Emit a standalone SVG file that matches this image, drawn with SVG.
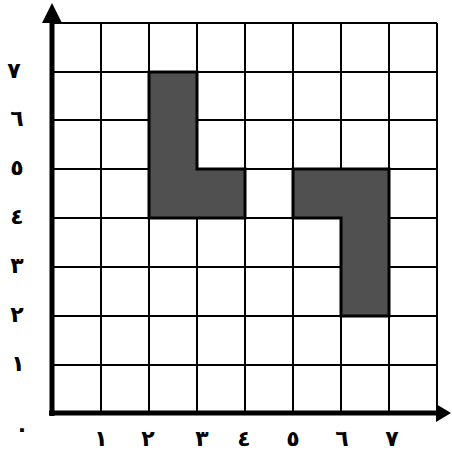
<svg xmlns="http://www.w3.org/2000/svg" width="452" height="458" viewBox="0 0 452 458">
<style>
.g{stroke:#000;stroke-width:2;fill:none}
.sh{fill:#505050;stroke:#000;stroke-width:3;stroke-linejoin:miter}
.ax{stroke:#000;stroke-width:5;fill:none}
.t{font-family:"DejaVu Sans",sans-serif;font-size:22px;font-weight:bold;fill:#000;text-anchor:middle}
</style>
<rect width="452" height="458" fill="#fff"/>
<g id="grid">
<path class="g" d="M101,23V413M149,23V413M197,23V413M245,23V413M293,23V413M341,23V413M389,23V413M437,23V413M52,23H437M52,72H437M52,120H437M52,169H437M52,218H437M52,267H437M52,316H437M52,365H437"/>
</g>
<g id="shapes">
<polygon id="shape-left" class="sh" points="149,72 197,72 197,169 245,169 245,218 149,218"/>
<polygon id="shape-right" class="sh" points="293,169 389,169 389,316 341,316 341,218 293,218"/>
</g>
<g id="axes">
<path class="ax" d="M52,416V20M49,413H440"/>
<polygon points="52,3 42,23 62,23" fill="#000"/>
<polygon points="436,404 436,422 451,413" fill="#000"/>
</g>
<g id="y-labels">
<text class="t" x="14" y="78">٧</text>
<text class="t" x="17" y="126">٦</text>
<text class="t" x="17" y="175">٥</text>
<text class="t" x="17" y="224">٤</text>
<text class="t" x="17" y="273">٣</text>
<text class="t" x="17" y="322">٢</text>
<text class="t" x="18" y="371">١</text>
<text class="t" x="22" y="436">٠</text>
</g>
<g id="x-labels">
<text class="t" x="101" y="446">١</text>
<text class="t" x="148" y="446">٢</text>
<text class="t" x="202" y="446">٣</text>
<text class="t" x="244" y="446">٤</text>
<text class="t" x="293" y="446">٥</text>
<text class="t" x="342" y="446">٦</text>
<text class="t" x="392" y="446">٧</text>
</g>
</svg>
